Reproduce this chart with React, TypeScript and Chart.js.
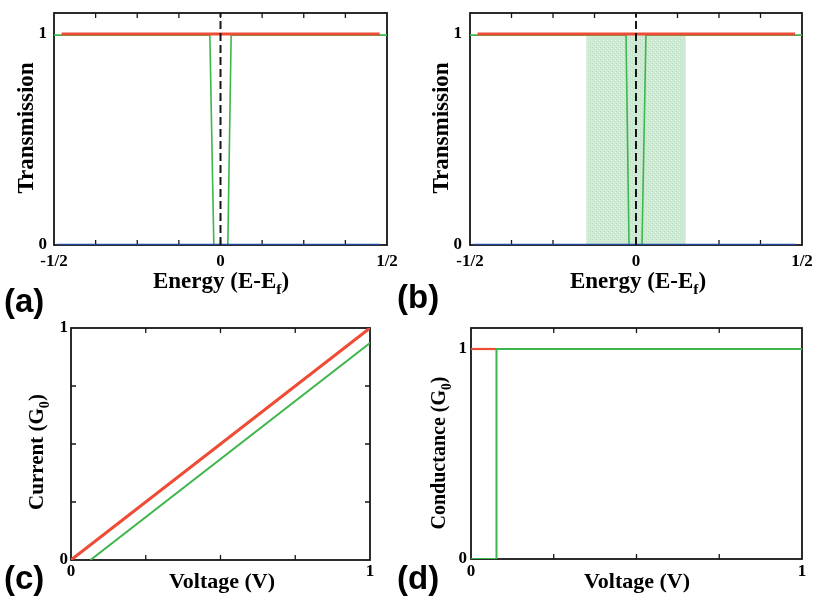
import React, { useEffect, useRef } from "react";
import { Chart, registerables } from "chart.js";
Chart.register(...registerables);

// ---------------- data ----------------
const energyTickValues = [-0.5, -0.375, -0.25, -0.125, 0, 0.125, 0.25, 0.375, 0.5];
const energyTickLabels = ["-1/2", "", "", "", "0", "", "", "", "1/2"];
const energyMinorMarks = [-0.375, -0.25, -0.125, 0, 0.125, 0.25, 0.375];
const voltageTickValues = [0, 0.25, 0.5, 0.75, 1];
const voltageTickLabels = ["0", "", "", "", "1"];
const voltageMinorMarks = [0.25, 0.5, 0.75];
const unitTickValues = [0, 1];
const unitTickLabels = ["0", "1"];
const currentMinorMarks = [0.25, 0.5, 0.75];

const fermiX = [0, 0];
const fermiY = [0, 1.1];

const aRedX = [-0.477, 0.478];
const aRedY = [1, 1];
const aGreenX = [-0.5, -0.032, -0.02, 0.022, 0.032, 0.5];
const aGreenY = [0.995, 0.995, 0, 0, 0.995, 0.995];
const aBlueX = [-0.49, 0.48];
const aBlueY = [0, 0];

const bRedX = [-0.477, 0.479];
const bRedY = [1, 1];
const bGreenX = [-0.5, -0.03, -0.021, 0.018, 0.03, 0.5];
const bGreenY = [0.995, 0.995, 0, 0, 0.995, 0.995];
const bBlueX = [-0.49, 0.48];
const bBlueY = [0, 0];
const bWindowX = [-0.15, 0.15];
const bWindowY = [1, 1];

const cRedX = [0, 1];
const cRedY = [0, 1];
const cGreenX = [0.065, 1];
const cGreenY = [0, 0.935];

const dRedX = [0, 0.077];
const dRedY = [1, 1];
const dGreenX = [0, 0.077, 0.077, 1];
const dGreenY = [0, 0, 1, 1];

// ---------------- styles ----------------
const RED = "#ef4c36";
const GREEN = "#3db64b";
const BLUE = "#2149a6";
const INK = "#161616";
const SERIF = '"Liberation Serif", "Times New Roman", serif';
const SANS = '"Liberation Sans", Arial, sans-serif';

const pts = (xs: number[], ys: number[]) => xs.map((x, i) => ({ x, y: ys[i] }));

type Part = { t: string; sub?: boolean };

interface PanelSpec {
  key: string;
  left: number;
  top: number;
  width: number;
  height: number;
  padTop: number;
  padRight: number;
  yAxisWidth: number;
  xAxisHeight: number;
  xMin: number;
  xMax: number;
  yMin: number;
  yMax: number;
  xTicks: number[];
  xLabels: string[];
  xMarks: number[];
  yTicks: number[];
  yLabels: string[];
  yMarks: number[];
  xLabelPad: number;
  yLabelPad: number;
  xTitle: Part[];
  xTitleSize: number;
  xTitlePos: [number, number];
  yTitle: Part[];
  yTitleSize: number;
  yTitlePos: [number, number];
  letter: string;
  letterPos: [number, number];
  series: (pattern: CanvasPattern | string) => any[];
}

const line = (data: any[], color: string, width: number, extra: any = {}) => ({
  data,
  borderColor: color,
  borderWidth: width,
  pointRadius: 0,
  tension: 0,
  fill: false,
  ...extra,
});

const panels: PanelSpec[] = [
  {
    key: "a",
    left: 0, top: 0, width: 400, height: 330,
    padTop: 13, padRight: 13, yAxisWidth: 54, xAxisHeight: 85,
    xMin: -0.5, xMax: 0.5, yMin: 0, yMax: 1.1,
    xTicks: energyTickValues, xLabels: energyTickLabels, xMarks: energyMinorMarks,
    yTicks: unitTickValues, yLabels: unitTickLabels, yMarks: [],
    xLabelPad: 6, yLabelPad: 7,
    xTitle: [{ t: "Energy (E-E" }, { t: "f", sub: true }, { t: ")" }], xTitleSize: 23, xTitlePos: [221, 288],
    yTitle: [{ t: "Transmission" }], yTitleSize: 23, yTitlePos: [33, 128],
    letter: "(a)", letterPos: [4, 303],
    series: () => [
      line(pts(fermiX, fermiY), INK, 2, { borderDash: [8, 4] }),
      line(pts(aRedX, aRedY), RED, 3),
      line(pts(aBlueX, aBlueY), BLUE, 2.5),
      line(pts(aGreenX, aGreenY), GREEN, 1.6),
    ],
  },
  {
    key: "b",
    left: 395, top: 0, width: 420, height: 330,
    padTop: 13, padRight: 13, yAxisWidth: 75, xAxisHeight: 85,
    xMin: -0.5, xMax: 0.5, yMin: 0, yMax: 1.1,
    xTicks: energyTickValues, xLabels: energyTickLabels, xMarks: energyMinorMarks,
    yTicks: unitTickValues, yLabels: unitTickLabels, yMarks: [],
    xLabelPad: 6, yLabelPad: 8,
    xTitle: [{ t: "Energy (E-E" }, { t: "f", sub: true }, { t: ")" }], xTitleSize: 23, xTitlePos: [243, 288],
    yTitle: [{ t: "Transmission" }], yTitleSize: 23, yTitlePos: [53, 128],
    letter: "(b)", letterPos: [2, 299],
    series: (pattern) => [
      line(pts(fermiX, fermiY), INK, 2, { borderDash: [8, 4] }),
      line(pts(bRedX, bRedY), RED, 3),
      line(pts(bBlueX, bBlueY), BLUE, 2.5),
      line(pts(bGreenX, bGreenY), GREEN, 1.6),
      line(pts(bWindowX, bWindowY), "rgba(0,0,0,0)", 0, { fill: "origin", backgroundColor: pattern }),
    ],
  },
  {
    key: "c",
    left: 0, top: 320, width: 400, height: 279,
    padTop: 8, padRight: 30, yAxisWidth: 71, xAxisHeight: 39,
    xMin: 0, xMax: 1, yMin: 0, yMax: 1,
    xTicks: voltageTickValues, xLabels: voltageTickLabels, xMarks: voltageMinorMarks,
    yTicks: unitTickValues, yLabels: unitTickLabels, yMarks: currentMinorMarks,
    xLabelPad: 1, yLabelPad: 3,
    xTitle: [{ t: "Voltage (V)" }], xTitleSize: 22, xTitlePos: [222, 268],
    yTitle: [{ t: "Current (G" }, { t: "0", sub: true }, { t: ")" }], yTitleSize: 21, yTitlePos: [43, 132],
    letter: "(c)", letterPos: [4, 260],
    series: () => [
      line(pts(cRedX, cRedY), RED, 3),
      line(pts(cGreenX, cGreenY), GREEN, 2),
    ],
  },
  {
    key: "d",
    left: 395, top: 320, width: 420, height: 279,
    padTop: 8, padRight: 13, yAxisWidth: 76, xAxisHeight: 40,
    xMin: 0, xMax: 1, yMin: 0, yMax: 1.1,
    xTicks: voltageTickValues, xLabels: voltageTickLabels, xMarks: voltageMinorMarks,
    yTicks: unitTickValues, yLabels: unitTickLabels, yMarks: [],
    xLabelPad: 2, yLabelPad: 4,
    xTitle: [{ t: "Voltage (V)" }], xTitleSize: 22, xTitlePos: [242, 268],
    yTitle: [{ t: "Conductance (G" }, { t: "0", sub: true }, { t: ")" }], yTitleSize: 20, yTitlePos: [50, 133],
    letter: "(d)", letterPos: [2, 260],
    series: () => [
      line(pts(dGreenX, dGreenY), GREEN, 2),
      line(pts(dRedX, dRedY), RED, 2.2),
    ],
  },
];

function makePattern(): CanvasPattern | string {
  const c = document.createElement("canvas");
  c.width = 4;
  c.height = 4;
  const g = c.getContext("2d");
  if (!g) return "#d3ecd8";
  g.fillStyle = "#cde9d3";
  g.fillRect(0, 0, 4, 4);
  g.fillStyle = "#e4f3e7";
  g.fillRect(0, 0, 1, 1);
  g.fillRect(2, 2, 1, 1);
  g.fillStyle = "#c0e1c7";
  g.fillRect(1, 3, 1, 1);
  g.fillRect(3, 1, 1, 1);
  const p = g.createPattern(c, "repeat");
  return p || "#d3ecd8";
}

function drawRich(ctx: CanvasRenderingContext2D, parts: Part[], size: number, x: number, y: number) {
  let cx = x;
  for (const p of parts) {
    const s = p.sub ? size * 0.68 : size;
    ctx.font = `bold ${s}px ${SERIF}`;
    ctx.fillText(p.t, cx, p.sub ? y + size * 0.28 : y);
    cx += ctx.measureText(p.t).width;
  }
}

function measureRich(ctx: CanvasRenderingContext2D, parts: Part[], size: number) {
  let w = 0;
  for (const p of parts) {
    const s = p.sub ? size * 0.68 : size;
    ctx.font = `bold ${s}px ${SERIF}`;
    w += ctx.measureText(p.t).width;
  }
  return w;
}

function decorPlugin(spec: PanelSpec) {
  return {
    id: "decor_" + spec.key,
    beforeDatasetsDraw(chart: any) {
      const { ctx, chartArea: a, scales } = chart;
      ctx.save();
      ctx.strokeStyle = INK;
      ctx.lineWidth = 1.8;
      ctx.strokeRect(a.left, a.top, a.right - a.left, a.bottom - a.top);
      ctx.lineWidth = 1.3;
      ctx.beginPath();
      for (const v of spec.xMarks) {
        const px = scales.x.getPixelForValue(v);
        ctx.moveTo(px, a.bottom);
        ctx.lineTo(px, a.bottom - 5);
        ctx.moveTo(px, a.top);
        ctx.lineTo(px, a.top + 5);
      }
      for (const v of spec.yMarks) {
        const py = scales.y.getPixelForValue(v);
        ctx.moveTo(a.left, py);
        ctx.lineTo(a.left + 5, py);
        ctx.moveTo(a.right, py);
        ctx.lineTo(a.right - 5, py);
      }
      ctx.stroke();
      ctx.restore();
    },
    afterDraw(chart: any) {
      const { ctx } = chart;
      ctx.save();
      ctx.fillStyle = "#000";
      ctx.textBaseline = "alphabetic";
      ctx.textAlign = "left";
      const wx = measureRich(ctx, spec.xTitle, spec.xTitleSize);
      drawRich(ctx, spec.xTitle, spec.xTitleSize, spec.xTitlePos[0] - wx / 2, spec.xTitlePos[1]);
      const wy = measureRich(ctx, spec.yTitle, spec.yTitleSize);
      ctx.save();
      ctx.translate(spec.yTitlePos[0], spec.yTitlePos[1]);
      ctx.rotate(-Math.PI / 2);
      drawRich(ctx, spec.yTitle, spec.yTitleSize, -wy / 2, 0);
      ctx.restore();
      ctx.font = `bold 33px ${SANS}`;
      ctx.textBaseline = "middle";
      ctx.fillText(spec.letter, spec.letterPos[0], spec.letterPos[1]);
      ctx.restore();
    },
  };
}

function buildConfig(spec: PanelSpec): any {
  const tickFont = { family: SERIF, weight: "bold" as const, size: 17 };
  return {
    type: "line",
    data: { datasets: spec.series(makePattern()) },
    options: {
      animation: false,
      responsive: false,
      maintainAspectRatio: false,
      events: [],
      layout: { padding: { left: 0, top: spec.padTop, right: spec.padRight, bottom: 0 } },
      plugins: { legend: { display: false }, tooltip: { enabled: false }, title: { display: false } },
      scales: {
        x: {
          type: "linear",
          min: spec.xMin,
          max: spec.xMax,
          afterBuildTicks: (s: any) => {
            s.ticks = spec.xTicks.map((v) => ({ value: v }));
          },
          afterFit: (s: any) => {
            s.height = spec.xAxisHeight;
            s.paddingLeft = 0;
            s.paddingRight = 0;
          },
          ticks: {
            autoSkip: false,
            maxRotation: 0,
            minRotation: 0,
            padding: spec.xLabelPad,
            color: "#000",
            font: tickFont,
            callback: (_v: any, i: number) => spec.xLabels[i] ?? "",
          },
          grid: { display: false, drawTicks: false },
          border: { display: false },
          title: { display: false },
        },
        y: {
          type: "linear",
          min: spec.yMin,
          max: spec.yMax,
          afterBuildTicks: (s: any) => {
            s.ticks = spec.yTicks.map((v) => ({ value: v }));
          },
          afterFit: (s: any) => {
            s.width = spec.yAxisWidth;
            s.paddingTop = 0;
            s.paddingBottom = 0;
          },
          ticks: {
            autoSkip: false,
            padding: spec.yLabelPad,
            color: "#000",
            font: tickFont,
            callback: (_v: any, i: number) => spec.yLabels[i] ?? "",
          },
          grid: { display: false, drawTicks: false },
          border: { display: false },
          title: { display: false },
        },
      },
    },
    plugins: [decorPlugin(spec)],
  };
}

function Panel({ spec }: { spec: PanelSpec }) {
  const ref = useRef<HTMLCanvasElement>(null);
  useEffect(() => {
    if (!ref.current) return;
    const chart = new Chart(ref.current, buildConfig(spec));
    return () => chart.destroy();
  }, [spec]);
  return (
    <canvas
      ref={ref}
      width={spec.width}
      height={spec.height}
      style={{ position: "absolute", left: spec.left, top: spec.top, width: spec.width, height: spec.height }}
    />
  );
}

export default function App() {
  return (
    <div
      style={{
        position: "fixed",
        left: 0,
        top: 0,
        width: 815,
        height: 599,
        background: "#fff",
        overflow: "hidden",
      }}
    >
      {panels.map((p) => (
        <Panel key={p.key} spec={p} />
      ))}
    </div>
  );
}
